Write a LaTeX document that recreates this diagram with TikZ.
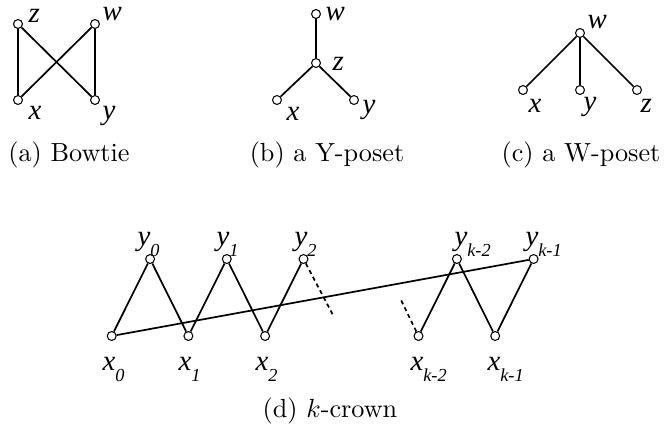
\documentclass[tikz,border=0pt]{standalone}
\usepackage{fontspec}
\newfontfamily\lblfont{Liberation Serif}
\usetikzlibrary{positioning}
\tikzset{
  % Elementlar va qoplash chiziqlari
  elem/.style  = {circle, draw, line width=0.4pt, fill=white, inner sep=0pt, minimum size=3.4pt},
  cover/.style = {line width=0.65pt},
  gapline/.style = {line width=0.65pt, dash pattern=on 1.6pt off 1.3pt},
  % Etiketlar
  lab/.style   = {font=\lblfont\fontsize{11}{13}\selectfont\itshape, inner sep=0pt, anchor=base west},
  capt/.style  = {inner sep=0pt, anchor=base},
}
\newcommand{\lblsub}[2]{#1\raisebox{-4.5pt}{\fontsize{7}{8}\selectfont #2}}

\begin{document}
\begin{tikzpicture}[x=0.3817pt, y=-0.3817pt]
  \useasboundingbox (0,0) rectangle (668,432);
  % (a) Bowtie
  \node[elem] (bz) at (18,24) {};
  \node[elem] (bw) at (95,24) {};
  \node[elem] (bx) at (18,100) {};
  \node[elem] (by) at (95,100) {};
  \draw[cover] (bz) -- (bx) (bw) -- (by) (bz) -- (by) (bw) -- (bx);
  \node[lab] (lbz) at (28,22) {z};
  \node[lab] (lbw) at (102,20) {w};
  \node[lab] (lbx) at (28,119) {x};
  \node[lab] (lby) at (102,119) {y};
  \node[capt] (capa) at (69,161) {(a) Bowtie};

  % (b) Y-poset
  \node[elem] (yw) at (316,14) {};
  \node[elem] (yz) at (316,63) {};
  \node[elem] (yx) at (277,100) {};
  \node[elem] (yy) at (354,100) {};
  \draw[cover] (yw) -- (yz) (yz) -- (yx) (yz) -- (yy);
  \node[lab] (lyw) at (325,20) {w};
  \node[lab] (lyz) at (332,70) {z};
  \node[lab] (lyx) at (286,120) {x};
  \node[lab] (lyy) at (362,113) {y};
  \node[capt] (capb) at (327,161) {(b) a Y-poset};

  % (c) W-poset
  \node[elem] (ww) at (580,33) {};
  \node[elem] (wx) at (523,90) {};
  \node[elem] (wy) at (580,90) {};
  \node[elem] (wz) at (637,90) {};
  \draw[cover] (ww) -- (wx) (ww) -- (wy) (ww) -- (wz);
  \node[lab] (lww) at (587,28) {w};
  \node[lab] (lwx) at (528,112) {x};
  \node[lab] (lwy) at (583,110) {y};
  \node[lab] (lwz) at (640,112) {z};
  \node[capt] (capc) at (581,161) {(c) a W-poset};

  % (d) k-crown
  \node[elem] (x0) at (111.7,336) {};
  \node[elem] (x1) at (188.4,336) {};
  \node[elem] (x2) at (265.1,336) {};
  \node[elem] (xk2) at (418.5,336) {};
  \node[elem] (xk1) at (495.2,336) {};
  \node[elem] (y0) at (150.1,259) {};
  \node[elem] (y1) at (226.8,259) {};
  \node[elem] (y2) at (303.5,259) {};
  \node[elem] (yk2) at (456.9,259) {};
  \node[elem] (yk1) at (533.6,259) {};
  \coordinate (gapa) at (334,317);
  \coordinate (gapb) at (400,298);
  \draw[cover] (x0) -- (y0) -- (x1) -- (y1) -- (x2) -- (y2);
  \draw[cover] (xk2) -- (yk2) -- (xk1) -- (yk1);
  \draw[cover] (x0) -- (yk1);
  \draw[gapline] (y2) -- (gapa);
  \draw[gapline] (xk2) -- (gapb);
  \node[lab] (ly0) at (137,245) {\lblsub{y}{0}};
  \node[lab] (ly1) at (216,245) {\lblsub{y}{1}};
  \node[lab] (ly2) at (294,245) {\lblsub{y}{2}};
  \node[lab] (lyk2) at (454,245) {\lblsub{y}{k-2}};
  \node[lab] (lyk1) at (525,245) {\lblsub{y}{k-1}};
  \node[lab] (lx0) at (102,370) {\lblsub{x}{0}};
  \node[lab] (lx1) at (178,370) {\lblsub{x}{1}};
  \node[lab] (lx2) at (255,370) {\lblsub{x}{2}};
  \node[lab] (lxk2) at (410,370) {\lblsub{x}{k-2}};
  \node[lab] (lxk1) at (487,370) {\lblsub{x}{k-1}};
  \node[capt] (capd) at (330,417) {(d) $k$-crown};
\end{tikzpicture}
\end{document}
